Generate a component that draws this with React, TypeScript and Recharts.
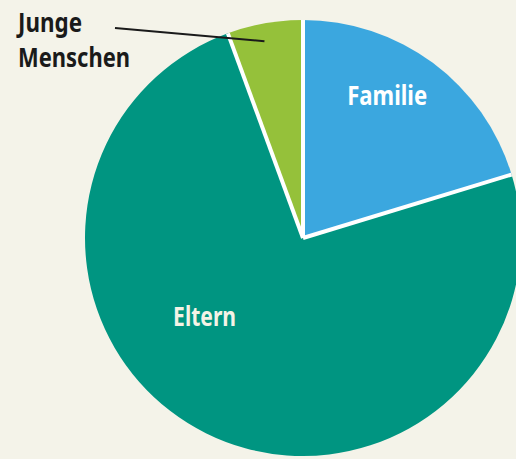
import React from 'react';
import { PieChart, Pie, Cell, Sector } from 'recharts';

const categories = ['Familie', 'Eltern', 'Junge Menschen'];
const values = [20.3, 74.1, 5.6];
const colors = ['#3ba7df', '#009581', '#95c13a'];

const data = categories.map((name, i) => ({ name, value: values[i] }));

const BG = '#f4f3e9';
const FONT = '"Noto Sans", "Open Sans", "DejaVu Sans", sans-serif';
const RAD = Math.PI / 180;

const polar = (cx: number, cy: number, r: number, angle: number) => ({
  x: cx + r * Math.cos(-angle * RAD),
  y: cy + r * Math.sin(-angle * RAD),
});

const renderSector = (props: any) => <Sector {...props} stroke="none" />;

const renderDivider = (props: any) => {
  const { cx, cy, outerRadius, startAngle } = props;
  const p = polar(cx, cy, outerRadius, startAngle);
  return <line x1={cx} y1={cy} x2={p.x} y2={p.y} stroke="#ffffff" strokeWidth={4} />;
};

const Label = ({ x, y, w, fill, children, anchor = 'middle' }: any) => (
  <text
    x={x}
    y={y}
    textAnchor={anchor}
    fill={fill}
    fontFamily={FONT}
    fontWeight="bold"
    fontSize={27}
    textLength={w}
    lengthAdjust="spacingAndGlyphs"
  >
    {children}
  </text>
);

const renderLabel = (props: any) => {
  const { cx, cy, midAngle, outerRadius, index } = props;
  if (index === 0) {
    const p = polar(cx, cy, outerRadius * 0.722, midAngle + 4.2);
    return <Label x={p.x} y={p.y} w={80} fill="#ffffff">{categories[0]}</Label>;
  }
  if (index === 1) {
    const p = polar(cx, cy, outerRadius * 0.606, midAngle - 21.7);
    return <Label x={p.x} y={p.y} w={63} fill="#f4f3e6">{categories[1]}</Label>;
  }
  const inner = polar(cx, cy, outerRadius * 0.92, midAngle + 1);
  return (
    <g>
      <line x1={115} y1={28} x2={inner.x} y2={inner.y} stroke="#1a1a1a" strokeWidth={2} />
      <Label x={18} y={32} w={64} fill="#1a1a1a" anchor="start">Junge</Label>
      <Label x={18} y={67} w={112} fill="#1a1a1a" anchor="start">Menschen</Label>
    </g>
  );
};

export default function App() {
  return (
    <div style={{ position: 'fixed', left: 0, top: 0, width: 516, height: 459, background: BG, overflow: 'hidden' }}>
      <PieChart width={516} height={459} margin={{ top: 0, right: 0, bottom: 0, left: 0 }}>
        <Pie
          data={data}
          dataKey="value"
          nameKey="name"
          cx={303}
          cy={238}
          outerRadius={218}
          startAngle={90}
          endAngle={-270}
          isAnimationActive={false}
          shape={renderSector}
          stroke="none"
        >
          {data.map((d, i) => (
            <Cell key={d.name} fill={colors[i]} />
          ))}
        </Pie>
        <Pie
          data={data}
          dataKey="value"
          nameKey="name"
          cx={303}
          cy={238}
          outerRadius={218}
          startAngle={90}
          endAngle={-270}
          isAnimationActive={false}
          shape={renderDivider}
          fill="none"
          stroke="none"
          label={renderLabel}
          labelLine={false}
        />
      </PieChart>
    </div>
  );
}
